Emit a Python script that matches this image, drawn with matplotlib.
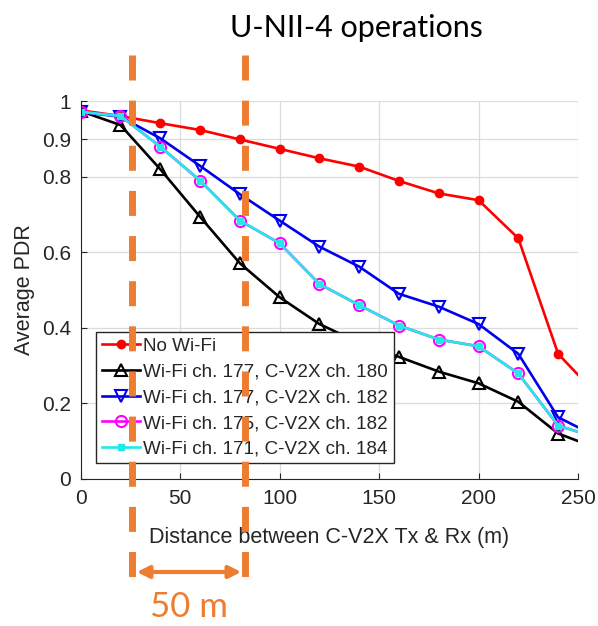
import matplotlib
matplotlib.use("Agg")
import matplotlib.pyplot as plt
from matplotlib.lines import Line2D
from matplotlib.patches import FancyArrowPatch

# distance (m); last point lies beyond the axis limit so the lines run off the edge
distance = [0, 20, 40, 60, 80, 100, 120, 140, 160, 180, 200, 220, 240, 260]

pdr_no_wifi = [0.976, 0.961, 0.942, 0.924, 0.899, 0.874, 0.849, 0.827, 0.789,
               0.756, 0.738, 0.637, 0.331, 0.22]
pdr_177_180 = [0.974, 0.937, 0.820, 0.694, 0.571, 0.481, 0.410, 0.360, 0.323,
               0.284, 0.253, 0.204, 0.120, 0.08]
pdr_177_182 = [0.972, 0.959, 0.902, 0.829, 0.754, 0.684, 0.615, 0.562, 0.490,
               0.456, 0.410, 0.331, 0.163, 0.11]
pdr_175_182 = [0.972, 0.961, 0.880, 0.790, 0.684, 0.624, 0.516, 0.460, 0.406,
               0.369, 0.351, 0.279, 0.141, 0.108]
pdr_171_184 = [0.972, 0.961, 0.880, 0.790, 0.684, 0.624, 0.516, 0.460, 0.406,
               0.369, 0.351, 0.279, 0.141, 0.108]

labels = ["No Wi-Fi",
          "Wi-Fi ch. 177, C-V2X ch. 180",
          "Wi-Fi ch. 177, C-V2X ch. 182",
          "Wi-Fi ch. 175, C-V2X ch. 182",
          "Wi-Fi ch. 171, C-V2X ch. 184"]

xticks = [0, 50, 100, 150, 200, 250]
yticks = [0, 0.2, 0.4, 0.6, 0.8, 0.9, 1]
ytick_labels = ["0", "0.2", "0.4", "0.6", "0.8", "0.9", "1"]

title_text = "U-NII-4 operations"
span_text = "50 m"

W, H = 598, 626
plt.rcParams["font.family"] = ["Liberation Sans", "DejaVu Sans"]
fig = plt.figure(figsize=(W / 100, H / 100), dpi=100)
ax = fig.add_axes([80.7 / W, 1 - 478.8 / H, (578 - 80.7) / W, (478.8 - 101.3) / H])

lw = 1.9
ax.plot(distance, pdr_no_wifi, "-o", color="#ff0000", lw=lw, ms=6,
        mfc="#ff0000", mec="#ff0000", label=labels[0])
ax.plot(distance, pdr_177_180, "-^", color="black", lw=lw, ms=8,
        mfc="none", mew=1.5, label=labels[1])
ax.plot(distance, pdr_177_182, "-v", color="#0000ee", lw=lw, ms=8,
        mfc="none", mew=1.5, label=labels[2])
ax.plot(distance, pdr_175_182, "-o", color="#ff00ff", lw=lw, ms=8,
        mfc="none", mew=1.5, label=labels[3])
ax.plot(distance, pdr_171_184, "-s", color="#22e8e8", lw=lw, ms=5,
        mfc="#22e8e8", label=labels[4])

ax.set_xlim(0, 250)
ax.set_ylim(0, 1)
ax.set_xticks(xticks)
ax.set_yticks(yticks)
ax.set_yticklabels(ytick_labels)
ax.grid(True, color="#dcdcdc", lw=0.9)
ax.set_axisbelow(True)
for side in ["top", "right"]:
    ax.spines[side].set_visible(False)
for side in ["left", "bottom"]:
    ax.spines[side].set_color("#262626")
ax.tick_params(direction="in", length=4, labelsize=15, colors="#262626",
               pad=7)
ax.set_xlabel("Distance between C-V2X Tx & Rx (m)", fontsize=15.5,
              color="#262626", labelpad=14)
ax.set_ylabel("Average PDR", fontsize=15.5, color="#262626", labelpad=5)

leg = ax.legend(loc="upper left", bbox_to_anchor=(0.031, 0.389), fontsize=13.6,
                frameon=True, fancybox=False, edgecolor="#262626",
                framealpha=1, handlelength=2.0, handletextpad=0.2,
                borderpad=0.3, labelspacing=0.45, borderaxespad=0)
leg.get_frame().set_linewidth(1.0)
leg.set_zorder(5)
for t in leg.get_texts():
    t.set_color("#262626")

# orange annotation: dashed bounds, arrow and labels (figure pixel coords)
orange = "#ed7d31"
for xp in (132, 245):
    fig.add_artist(Line2D([xp / W, xp / W], [1 - 55 / H, 1 - 578 / H],
                          transform=fig.transFigure, color=orange, lw=5,
                          dashes=(3.6, 2.9), solid_capstyle="butt",
                          dash_capstyle="butt", zorder=10))
fig.add_artist(FancyArrowPatch((134 / W, 1 - 572 / H), (244 / W, 1 - 572 / H),
                               transform=fig.transFigure, arrowstyle="<|-|>",
                               mutation_scale=18, color=orange, lw=3,
                               zorder=10))
fig.text(189 / W, 1 - 607 / H, span_text, color=orange, fontsize=25,
         family=["Lato", "DejaVu Sans"], ha="center", va="center")
fig.text(356 / W, 1 - 28 / H, title_text, color="black", fontsize=22,
         family=["Lato", "DejaVu Sans"], ha="center", va="center")

fig.savefig("out.png", dpi=100)
